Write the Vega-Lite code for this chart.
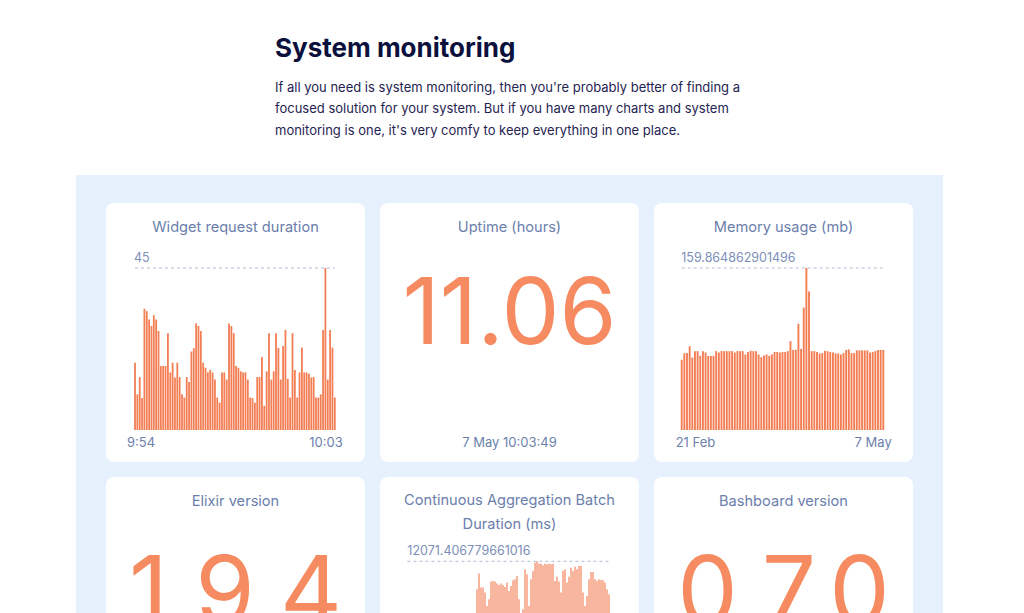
{
  "$schema": "https://vega.github.io/schema/vega-lite/v6.json",
  "background": "#e7f0fd",
  "padding": 0,
  "spacing": 0,
  "config": {
    "font": "Inter",
    "view": {"stroke": null},
    "title": {"font": "Inter", "fontWeight": 400, "fontSize": 14.6, "color": "#6b7eac", "orient": "bottom", "anchor": "middle", "frame": "group"},
    "text": {"font": "Inter"}
  },
  "vconcat": [
    {
      "width": 1024,
      "height": 175,
      "view": {"fill": "#ffffff", "stroke": null},
      "title": {
        "text": "System monitoring",
        "subtitle": [
          "If all you need is system monitoring, then you're probably better of finding a",
          "focused solution for your system. But if you have many charts and system",
          "monitoring is one, it's very comfy to keep everything in one place."
        ],
        "orient": "bottom",
        "anchor": "start",
        "frame": "group",
        "dx": 275,
        "offset": -138.8,
        "fontSize": 26,
        "fontWeight": 700,
        "color": "#0c103d",
        "subtitleFont": "Inter",
        "subtitleFontSize": 13,
        "subtitleColor": "#1f2452",
        "subtitlePadding": 19.8,
        "subtitleLineHeight": 21.3
      },
      "data": {"values": [{}]},
      "mark": {"type": "text"},
      "encoding": {"text": {"value": ""}}
    },
    {
      "spacing": 30,
      "hconcat": [
        {
          "width": 76,
          "height": 562,
          "view": {"fill": "#ffffff", "stroke": null},
          "data": {"values": [{}]},
          "mark": {"type": "text"},
          "encoding": {"text": {"value": ""}}
        },
        {
          "spacing": 15,
          "vconcat": [
            {
              "width": 807,
              "height": 13,
              "data": {"values": [{}]},
              "mark": {"type": "text"},
              "encoding": {"text": {"value": ""}}
            },
            {
              "spacing": 15,
              "hconcat": [
                {
                  "width": 259,
                  "height": 259,
                  "view": {"fill": "#ffffff", "cornerRadius": 8, "stroke": null},
                  "title": {"text": "Widget request duration", "offset": -242.2},
                  "layer": [
                    {
                      "data": {"values": [
                        {"i": 0, "v": 18.7}, {"i": 1, "v": 9.9}, {"i": 2, "v": 14.7}, {"i": 3, "v": 8.9}, {"i": 4, "v": 33.7},
                        {"i": 5, "v": 33}, {"i": 6, "v": 30.7}, {"i": 7, "v": 28.9}, {"i": 8, "v": 31.9}, {"i": 9, "v": 30.7},
                        {"i": 10, "v": 27.5}, {"i": 11, "v": 17.8}, {"i": 12, "v": 17.8}, {"i": 13, "v": 17.8}, {"i": 14, "v": 26.9},
                        {"i": 15, "v": 16}, {"i": 16, "v": 18.7}, {"i": 17, "v": 14.6}, {"i": 18, "v": 18.7}, {"i": 19, "v": 14.7},
                        {"i": 20, "v": 9.9}, {"i": 21, "v": 9}, {"i": 22, "v": 14.7}, {"i": 23, "v": 13.3}, {"i": 24, "v": 21.8},
                        {"i": 25, "v": 22.7}, {"i": 26, "v": 29.6}, {"i": 27, "v": 28.9}, {"i": 28, "v": 27.5}, {"i": 29, "v": 18.7},
                        {"i": 30, "v": 17.3}, {"i": 31, "v": 16}, {"i": 32, "v": 16.7}, {"i": 33, "v": 16}, {"i": 34, "v": 14},
                        {"i": 35, "v": 9}, {"i": 36, "v": 7.6}, {"i": 37, "v": 16}, {"i": 38, "v": 16}, {"i": 39, "v": 14},
                        {"i": 40, "v": 29.6}, {"i": 41, "v": 28.9}, {"i": 42, "v": 26.9}, {"i": 43, "v": 17.8}, {"i": 44, "v": 17.3},
                        {"i": 45, "v": 16.3}, {"i": 46, "v": 16}, {"i": 47, "v": 16}, {"i": 48, "v": 14}, {"i": 49, "v": 9},
                        {"i": 50, "v": 8.9}, {"i": 51, "v": 7.6}, {"i": 52, "v": 14.7}, {"i": 53, "v": 14.7}, {"i": 54, "v": 20.3},
                        {"i": 55, "v": 6.7}, {"i": 56, "v": 16.3}, {"i": 57, "v": 26.9}, {"i": 58, "v": 14}, {"i": 59, "v": 16.3},
                        {"i": 60, "v": 26.9}, {"i": 61, "v": 22.8}, {"i": 62, "v": 14}, {"i": 63, "v": 23.3}, {"i": 64, "v": 27.8},
                        {"i": 65, "v": 14.2}, {"i": 66, "v": 9}, {"i": 67, "v": 26.9}, {"i": 68, "v": 16.7}, {"i": 69, "v": 9},
                        {"i": 70, "v": 16}, {"i": 71, "v": 22.9}, {"i": 72, "v": 16}, {"i": 73, "v": 16}, {"i": 74, "v": 15.6},
                        {"i": 75, "v": 14.6}, {"i": 76, "v": 14.7}, {"i": 77, "v": 9}, {"i": 78, "v": 9}, {"i": 79, "v": 9.9},
                        {"i": 80, "v": 27.8}, {"i": 81, "v": 45}, {"i": 82, "v": 14}, {"i": 83, "v": 27.8}, {"i": 84, "v": 22.9},
                        {"i": 85, "v": 9}
                      ]},
                      "mark": {"type": "bar", "width": 1.8, "color": "#f37e54"},
                      "encoding": {
                        "x": {"field": "i", "type": "quantitative", "axis": null, "scale": {"domain": [-12.34, 97.85], "nice": false, "zero": false, "padding": 0}},
                        "y": {"field": "v", "type": "quantitative", "axis": null, "scale": {"domain": [-8.889, 63.056], "nice": false, "zero": false, "padding": 0}},
                        "y2": {"datum": 0}
                      }
                    },
                    {
                      "data": {"values": [{}]},
                      "mark": {"type": "rule", "strokeDash": [3, 3], "color": "#b1bcd3", "strokeWidth": 1},
                      "encoding": {"x": {"datum": 0}, "x2": {"datum": 85}, "y": {"datum": 45}}
                    },
                    {
                      "data": {"values": [{}]},
                      "mark": {"type": "text", "align": "left", "baseline": "alphabetic", "dx": -1, "dy": -6.4, "fontSize": 12.5, "color": "#7d8fb8"},
                      "encoding": {"x": {"datum": 0}, "y": {"datum": 45}, "text": {"value": "45"}}
                    },
                    {
                      "data": {"values": [{}]},
                      "mark": {"type": "text", "align": "left", "baseline": "alphabetic", "dx": -8, "dy": 16.7, "fontSize": 13, "color": "#6c7fac"},
                      "encoding": {"x": {"datum": 0}, "y": {"datum": 0}, "text": {"value": "9:54"}}
                    },
                    {
                      "data": {"values": [{}]},
                      "mark": {"type": "text", "align": "right", "baseline": "alphabetic", "dx": 8, "dy": 16.7, "fontSize": 13, "color": "#6c7fac"},
                      "encoding": {"x": {"datum": 85}, "y": {"datum": 0}, "text": {"value": "10:03"}}
                    }
                  ]
                },
                {
                  "width": 259,
                  "height": 259,
                  "view": {"fill": "#ffffff", "cornerRadius": 8, "stroke": null},
                  "title": {"text": "Uptime (hours)", "offset": -242.2},
                  "data": {"values": [{"value": "11.06", "time": "7 May 10:03:49"}]},
                  "layer": [
                    {
                      "mark": {"type": "text", "align": "center", "baseline": "alphabetic", "dy": 11.5, "fontSize": 92, "color": "#f68a60"},
                      "encoding": {"text": {"field": "value", "type": "nominal"}}
                    },
                    {
                      "mark": {"type": "text", "align": "center", "baseline": "alphabetic", "dy": 114.5, "fontSize": 13, "color": "#6c7fac"},
                      "encoding": {"text": {"field": "time", "type": "nominal"}}
                    }
                  ]
                },
                {
                  "width": 259,
                  "height": 259,
                  "view": {"fill": "#ffffff", "cornerRadius": 8, "stroke": null},
                  "title": {"text": "Memory usage (mb)", "offset": -242.2},
                  "layer": [
                    {
                      "data": {"values": [
                        {"i": 0, "v": 69.3}, {"i": 1, "v": 75.6}, {"i": 2, "v": 75.9}, {"i": 3, "v": 82.6}, {"i": 4, "v": 71.5},
                        {"i": 5, "v": 77.8}, {"i": 6, "v": 77.8}, {"i": 7, "v": 73.2}, {"i": 8, "v": 77.8}, {"i": 9, "v": 76.5},
                        {"i": 10, "v": 73}, {"i": 11, "v": 73}, {"i": 12, "v": 73.2}, {"i": 13, "v": 77.8}, {"i": 14, "v": 76.5},
                        {"i": 15, "v": 77.8}, {"i": 16, "v": 77.8}, {"i": 17, "v": 77.8}, {"i": 18, "v": 77.8}, {"i": 19, "v": 77.8},
                        {"i": 20, "v": 76.5}, {"i": 21, "v": 77.8}, {"i": 22, "v": 77.8}, {"i": 23, "v": 77.8}, {"i": 24, "v": 74.5},
                        {"i": 25, "v": 77}, {"i": 26, "v": 78.2}, {"i": 27, "v": 77.8}, {"i": 28, "v": 77.8}, {"i": 29, "v": 74.5},
                        {"i": 30, "v": 71.9}, {"i": 31, "v": 73.5}, {"i": 32, "v": 74.5}, {"i": 33, "v": 73.2}, {"i": 34, "v": 74.5},
                        {"i": 35, "v": 77}, {"i": 36, "v": 77}, {"i": 37, "v": 76.5}, {"i": 38, "v": 77}, {"i": 39, "v": 77},
                        {"i": 40, "v": 77.8}, {"i": 41, "v": 87.7}, {"i": 42, "v": 79}, {"i": 43, "v": 79.3}, {"i": 44, "v": 104.9},
                        {"i": 45, "v": 80}, {"i": 46, "v": 120.8}, {"i": 47, "v": 159.864862901496}, {"i": 48, "v": 136.6}, {"i": 49, "v": 77.8},
                        {"i": 50, "v": 77.8}, {"i": 51, "v": 77}, {"i": 52, "v": 75.5}, {"i": 53, "v": 75.9}, {"i": 54, "v": 78.2},
                        {"i": 55, "v": 77.8}, {"i": 56, "v": 77}, {"i": 57, "v": 76.5}, {"i": 58, "v": 75.5}, {"i": 59, "v": 75.5},
                        {"i": 60, "v": 74.5}, {"i": 61, "v": 75.9}, {"i": 62, "v": 79}, {"i": 63, "v": 79.6}, {"i": 64, "v": 75.9},
                        {"i": 65, "v": 75.9}, {"i": 66, "v": 78.6}, {"i": 67, "v": 78.6}, {"i": 68, "v": 78.6}, {"i": 69, "v": 78.6},
                        {"i": 70, "v": 78.6}, {"i": 71, "v": 76.5}, {"i": 72, "v": 77}, {"i": 73, "v": 77.8}, {"i": 74, "v": 79},
                        {"i": 75, "v": 79}, {"i": 76, "v": 79}
                      ]},
                      "mark": {"type": "bar", "width": 1.9, "color": "#f37e54"},
                      "encoding": {
                        "x": {"field": "i", "type": "quantitative", "axis": null, "scale": {"domain": [-10.44, 87.19], "nice": false, "zero": false, "padding": 0}},
                        "y": {"field": "v", "type": "quantitative", "axis": null, "scale": {"domain": [-31.58, 224.01], "nice": false, "zero": false, "padding": 0}},
                        "y2": {"datum": 0}
                      }
                    },
                    {
                      "data": {"values": [{}]},
                      "mark": {"type": "rule", "strokeDash": [3, 3], "color": "#b1bcd3", "strokeWidth": 1},
                      "encoding": {"x": {"datum": 0}, "x2": {"datum": 76}, "y": {"datum": 159.864862901496}}
                    },
                    {
                      "data": {"values": [{}]},
                      "mark": {"type": "text", "align": "left", "baseline": "alphabetic", "dx": -0.5, "dy": -6.5, "fontSize": 12.5, "color": "#7d8fb8"},
                      "encoding": {"x": {"datum": 0}, "y": {"datum": 159.864862901496}, "text": {"value": "159.864862901496"}}
                    },
                    {
                      "data": {"values": [{}]},
                      "mark": {"type": "text", "align": "left", "baseline": "alphabetic", "dx": -6, "dy": 16.7, "fontSize": 13, "color": "#6c7fac"},
                      "encoding": {"x": {"datum": 0}, "y": {"datum": 0}, "text": {"value": "21 Feb"}}
                    },
                    {
                      "data": {"values": [{}]},
                      "mark": {"type": "text", "align": "right", "baseline": "alphabetic", "dx": 8.4, "dy": 16.7, "fontSize": 13, "color": "#6c7fac"},
                      "encoding": {"x": {"datum": 76}, "y": {"datum": 0}, "text": {"value": "7 May"}}
                    }
                  ]
                }
              ]
            },
            {
              "spacing": 15,
              "hconcat": [
                {
                  "width": 259,
                  "height": 259,
                  "view": {"fill": "#ffffff", "cornerRadius": 8, "stroke": null},
                  "title": {"text": "Elixir version", "offset": -242.2},
                  "data": {"values": [{"value": "1.9.4"}]},
                  "mark": {"type": "text", "align": "center", "baseline": "alphabetic", "dy": 18, "fontSize": 96, "color": "#f68a60"},
                  "encoding": {"text": {"field": "value", "type": "nominal"}}
                },
                {
                  "width": 259,
                  "height": 259,
                  "view": {"fill": "#ffffff", "cornerRadius": 8, "stroke": null},
                  "title": {"text": ["Continuous Aggregation Batch", "Duration (ms)"], "offset": -243, "lineHeight": 24},
                  "layer": [
                    {
                      "data": {"values": [
                        {"i": 34, "v": 9705}, {"i": 35, "v": 11030}, {"i": 36, "v": 9848}, {"i": 37, "v": 9848}, {"i": 38, "v": 9426},
                        {"i": 39, "v": 8295}, {"i": 40, "v": 8860}, {"i": 41, "v": 10354}, {"i": 42, "v": 10405}, {"i": 43, "v": 10354},
                        {"i": 44, "v": 10186}, {"i": 45, "v": 10068}, {"i": 46, "v": 10186}, {"i": 47, "v": 10068}, {"i": 48, "v": 9899},
                        {"i": 49, "v": 10270}, {"i": 50, "v": 9561}, {"i": 51, "v": 9983}, {"i": 52, "v": 10461}, {"i": 53, "v": 10546},
                        {"i": 54, "v": 10827}, {"i": 55, "v": 8860}, {"i": 56, "v": 6000}, {"i": 57, "v": 8017}, {"i": 58, "v": 11392},
                        {"i": 59, "v": 10968}, {"i": 60, "v": 8295}, {"i": 61, "v": 10546}, {"i": 62, "v": 11249}, {"i": 63, "v": 11952},
                        {"i": 64, "v": 12071.406779661016}, {"i": 65, "v": 11873}, {"i": 66, "v": 11873}, {"i": 67, "v": 11730}, {"i": 68, "v": 11873},
                        {"i": 69, "v": 11814}, {"i": 70, "v": 11873}, {"i": 71, "v": 11814}, {"i": 72, "v": 11873}, {"i": 73, "v": 10405},
                        {"i": 74, "v": 10770}, {"i": 75, "v": 10354}, {"i": 76, "v": 9426}, {"i": 77, "v": 11249}, {"i": 78, "v": 11392},
                        {"i": 79, "v": 10270}, {"i": 80, "v": 10770}, {"i": 81, "v": 11533}, {"i": 82, "v": 11249}, {"i": 83, "v": 11617},
                        {"i": 84, "v": 11392}, {"i": 85, "v": 11673}, {"i": 86, "v": 11673}, {"i": 87, "v": 9426}, {"i": 88, "v": 8295},
                        {"i": 89, "v": 9140}, {"i": 90, "v": 10546}, {"i": 91, "v": 11165}, {"i": 92, "v": 11165}, {"i": 93, "v": 10546},
                        {"i": 94, "v": 10405}, {"i": 95, "v": 10546}, {"i": 96, "v": 10490}, {"i": 97, "v": 10490}, {"i": 98, "v": 10270},
                        {"i": 99, "v": 9705}, {"i": 100, "v": 9285}
                      ]},
                      "mark": {"type": "bar", "width": 1.1, "color": "#f27a4f"},
                      "encoding": {
                        "x": {"field": "i", "type": "quantitative", "axis": null, "scale": {"domain": [-14.5, 115], "nice": false, "zero": false, "padding": 0}},
                        "y": {"field": "v", "type": "quantitative", "axis": null, "scale": {"domain": [-2707, 19202], "nice": false, "zero": false, "padding": 0}},
                        "y2": {"datum": 0}
                      }
                    },
                    {
                      "data": {"values": [{}]},
                      "mark": {"type": "rule", "strokeDash": [3, 3], "color": "#b1bcd3", "strokeWidth": 1},
                      "encoding": {"x": {"datum": -0.8}, "x2": {"datum": 100.5}, "y": {"datum": 12071.406779661016}}
                    },
                    {
                      "data": {"values": [{}]},
                      "mark": {"type": "text", "align": "left", "baseline": "alphabetic", "dx": -1.7, "dy": -6.3, "fontSize": 12.5, "color": "#7d8fb8"},
                      "encoding": {"x": {"datum": 0}, "y": {"datum": 12071.406779661016}, "text": {"value": "12071.406779661016"}}
                    }
                  ]
                },
                {
                  "width": 259,
                  "height": 259,
                  "view": {"fill": "#ffffff", "cornerRadius": 8, "stroke": null},
                  "title": {"text": "Bashboard version", "offset": -242.2},
                  "data": {"values": [{"value": "0.7.0"}]},
                  "mark": {"type": "text", "align": "center", "baseline": "alphabetic", "dy": 18, "fontSize": 96, "color": "#f68a60"},
                  "encoding": {"text": {"field": "value", "type": "nominal"}}
                }
              ]
            }
          ]
        },
        {
          "width": 81,
          "height": 562,
          "view": {"fill": "#ffffff", "stroke": null},
          "data": {"values": [{}]},
          "mark": {"type": "text"},
          "encoding": {"text": {"value": ""}}
        }
      ]
    }
  ]
}
